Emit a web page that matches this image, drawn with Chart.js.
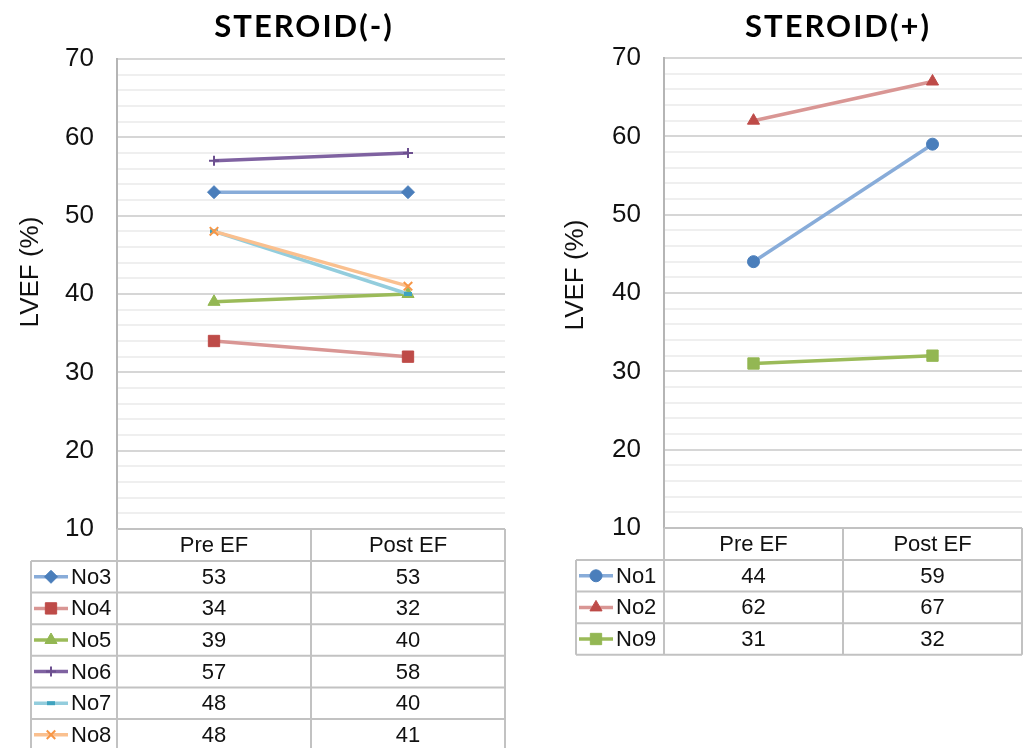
<!DOCTYPE html>
<html>
<head>
<meta charset="utf-8">
<title>LVEF STEROID(-) / STEROID(+)</title>
<script src="https://cdn.jsdelivr.net/npm/chart.js@4.4.0/dist/chart.umd.min.js"></script>
<style>
  body { margin: 0; background: #fff; }
  #wrap { position: relative; width: 1031px; height: 748px; overflow: hidden; }
  canvas { position: absolute; top: 0; }
  #left-chart { left: 0; }
  #right-chart { left: 515px; }
</style>
</head>
<body>
<div id="wrap">
  <canvas id="left-chart" width="515" height="748"></canvas>
  <canvas id="right-chart" width="516" height="748"></canvas>
</div>
<script>
// categories and y tick labels
const categories = [ 'Pre EF', 'Post EF' ];
const yTicks = [ 10, 20, 30, 40, 50, 60, 70 ];

// STEROID(-) patients : [Pre EF, Post EF]
const no3 = [ 53, 53 ];
const no4 = [ 34, 32 ];
const no5 = [ 39, 40 ];
const no6 = [ 57, 58 ];
const no7 = [ 48, 40 ];
const no8 = [ 48, 41 ];

// STEROID(+) patients
const no1 = [ 44, 59 ];
const no2 = [ 62, 67 ];
const no9 = [ 31, 32 ];

// excel-ish series looks
const looks = {
    blueDiamond:  { line: '#88acd9', dot: '#4a7ebb', marker: 'rectRot', r: 6.5, bw: 1 },
    redSquare:    { line: '#d99694', dot: '#be4b48', marker: 'rect', r: 8, bw: 1 },
    greenTri:     { line: '#9bbb59', dot: '#93b753', marker: 'triangle', r: 7, bw: 1 },
    purplePlus:   { line: '#7f62a1', dot: '#6c4f8f', marker: 'cross', r: 5, bw: 2 },
    cyanDash:     { line: '#93cddd', dot: '#3fa3bf', marker: 'line', r: 4, bw: 4 },
    orangeX:      { line: '#fac08f', dot: '#f79646', marker: 'crossRot', r: 6, bw: 2 },
    blueCircle:   { line: '#88acd9', dot: '#4a7ebb', marker: 'circle', r: 6, bw: 1 },
    redTri:       { line: '#d99694', dot: '#be4b48', marker: 'triangle', r: 7, bw: 1 },
    greenSquare:  { line: '#9bbb59', dot: '#93b753', marker: 'rect', r: 8, bw: 1 }
};

const FONT = '"Liberation Sans", Arial, sans-serif';

function makeSet( label, data, look, order ) {
    return {
        label: label,
        data: data,
        borderColor: look.line,
        borderWidth: 3.5,
        tension: 0,
        pointStyle: look.marker,
        pointRadius: look.r,
        pointBackgroundColor: look.dot,
        pointBorderColor: look.dot,
        pointBorderWidth: look.bw,
        order: order
    };
}

// draws title, y title and the excel style data table under the plot
const sheetPlugin = {
    id: 'sheet',
    afterDraw( chart, args, o ) {
        const ctx = chart.ctx;
        const a = chart.chartArea;
        const xs = chart.scales.x;
        const sets = chart.data.datasets;
        const mid = ( xs.getPixelForValue( 0 ) + xs.getPixelForValue( 1 ) ) / 2;
        const headBottom = a.bottom + o.headH;
        const bottom = headBottom + sets.length * o.rowH;

        ctx.save();
        // title
        ctx.fillStyle = '#000';
        ctx.font = 'bold 31px Lato, "Open Sans", sans-serif';
        ctx.letterSpacing = '2px';
        ctx.textAlign = 'center';
        ctx.textBaseline = 'alphabetic';
        ctx.fillText( o.title, o.titleX, o.titleY );
        ctx.letterSpacing = '0px';

        // y title
        ctx.save();
        ctx.font = '26px ' + FONT;
        ctx.fillStyle = '#111';
        ctx.textBaseline = 'middle';
        ctx.translate( o.yTitleX, o.yTitleY );
        ctx.rotate( -Math.PI / 2 );
        ctx.fillText( 'LVEF (%)', 0, 0 );
        ctx.restore();

        // grid of the table
        ctx.strokeStyle = '#c2c2c2';
        ctx.lineWidth = 2;
        ctx.beginPath();
        [ a.left, mid, a.right ].forEach( function ( x ) {
            ctx.moveTo( x, a.bottom );
            ctx.lineTo( x, bottom );
        });
        ctx.moveTo( o.legendLeft, headBottom );
        ctx.lineTo( o.legendLeft, bottom );
        ctx.moveTo( a.left, a.bottom );
        ctx.lineTo( a.right, a.bottom );
        for ( let i = 0; i <= sets.length; i++ ) {
            const y = headBottom + i * o.rowH;
            ctx.moveTo( o.legendLeft, y );
            ctx.lineTo( a.right, y );
        }
        ctx.stroke();

        // header
        ctx.font = '22px ' + FONT;
        ctx.fillStyle = '#111';
        ctx.textAlign = 'center';
        ctx.textBaseline = 'middle';
        chart.data.labels.forEach( function ( lab, i ) {
            ctx.fillText( lab, xs.getPixelForValue( i ), a.bottom + o.headH / 2 + 1 );
        });

        // rows
        sets.forEach( function ( ds, r ) {
            const cy = headBottom + r * o.rowH + o.rowH / 2;
            ctx.font = '22px ' + FONT;
            ctx.fillStyle = '#111';
            ctx.textAlign = 'center';
            ds.data.forEach( function ( v, i ) {
                ctx.fillText( String( v ), xs.getPixelForValue( i ), cy + 1 );
            });
            ctx.textAlign = 'left';
            ctx.fillText( ds.label, o.legendLeft + 40, cy + 1 );

            // legend key
            ctx.strokeStyle = ds.borderColor;
            ctx.lineWidth = 3.5;
            ctx.beginPath();
            ctx.moveTo( o.legendLeft + 3, cy );
            ctx.lineTo( o.legendLeft + 37, cy );
            ctx.stroke();
            ctx.fillStyle = ds.pointBackgroundColor;
            ctx.strokeStyle = ds.pointBorderColor;
            ctx.lineWidth = ds.pointBorderWidth;
            Chart.helpers.drawPoint( ctx, {
                pointStyle: ds.pointStyle,
                radius: ds.pointRadius,
                borderWidth: ds.pointBorderWidth,
                rotation: 0
            }, o.legendLeft + 20, cy );
        });
        ctx.restore();
    }
};

function makeChart( canvas, sets, yWidth, pad, sheet ) {
    return new Chart( canvas, {
        type: 'line',
        data: { labels: categories, datasets: sets },
        options: {
            responsive: false,
            animation: false,
            layout: { padding: pad },
            plugins: {
                legend: { display: false },
                tooltip: { enabled: false },
                title: { display: false },
                sheet: sheet
            },
            scales: {
                x: { display: false, offset: true },
                y: {
                    min: yTicks[ 0 ],
                    max: yTicks[ yTicks.length - 1 ],
                    afterFit: function ( s ) { s.width = yWidth; },
                    border: { color: '#b5b5b5', width: 2 },
                    grid: {
                        drawTicks: false,
                        lineWidth: 2,
                        color: function ( c ) {
                            return yTicks.includes( c.tick.value ) ? '#d6d6d6' : '#efefef';
                        }
                    },
                    ticks: {
                        stepSize: 2,
                        autoSkip: false,
                        padding: 23,
                        color: '#111',
                        font: { family: FONT, size: 26 },
                        callback: function ( v ) { return yTicks.includes( v ) ? v : ''; }
                    }
                }
            }
        },
        plugins: [ sheetPlugin ]
    });
}

window.addEventListener( 'load', function () {
    //
    const leftSets = [
        makeSet( 'No3', no3, looks.blueDiamond, 6 ),
        makeSet( 'No4', no4, looks.redSquare, 5 ),
        makeSet( 'No5', no5, looks.greenTri, 4 ),
        makeSet( 'No6', no6, looks.purplePlus, 3 ),
        makeSet( 'No7', no7, looks.cyanDash, 2 ),
        makeSet( 'No8', no8, looks.orangeX, 1 )
    ];
    const rightSets = [
        makeSet( 'No1', no1, looks.blueCircle, 3 ),
        makeSet( 'No2', no2, looks.redTri, 2 ),
        makeSet( 'No9', no9, looks.greenSquare, 1 )
    ];
    //
    makeChart( document.querySelector( '#left-chart' ), leftSets, 117,
        { left: 0, right: 10, top: 59, bottom: 219 },
        { title: 'STEROID(-)', titleX: 304, titleY: 37, yTitleX: 31, yTitleY: 272,
          legendLeft: 31, headH: 32, rowH: 31.6 } );
    makeChart( document.querySelector( '#right-chart' ), rightSets, 149,
        { left: 0, right: 1, top: 58, bottom: 220 },
        { title: 'STEROID(+)', titleX: 323, titleY: 37, yTitleX: 61, yTitleY: 275,
          legendLeft: 61, headH: 32, rowH: 31.6 } );
    //
}, false );
</script>
</body>
</html>
